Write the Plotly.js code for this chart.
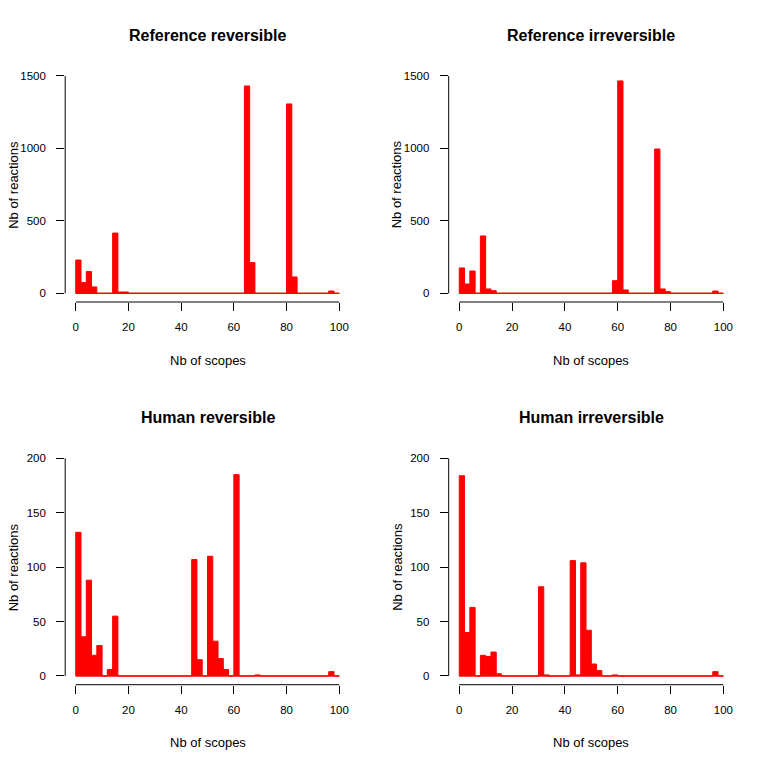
<!DOCTYPE html>
<html>
<head>
<meta charset="utf-8">
<script src="https://cdn.plot.ly/plotly-3.0.1.min.js"></script>
<style>html,body{margin:0;padding:0;background:#fff;}#chart{width:768px;height:767px;}</style>
</head>
<body>
<div id="chart"></div>
<script>
// Histogram bin edges (Nb of scopes), bins of width 2
const scopeBreaks = [0,2,4,6,8,10,12,14,16,18,20,22,24,26,28,30,32,34,36,38,40,42,44,46,48,50,
  52,54,56,58,60,62,64,66,68,70,72,74,76,78,80,82,84,86,88,90,92,94,96,98,100];

// Counts per bin (Nb of reactions)
const refReversible = [230,74,150,44,0,0,0,416,9,9, 0,0,0,0,0,0,0,0,0,0,
  0,0,0,0,0,0,0,0,0,0, 0,0,1431,212,0,0,0,0,0,0, 1307,113,0,0,0,0,0,0,16,0];
const refIrreversible = [175,64,154,0,396,30,18,0,0,0, 0,0,0,0,0,0,0,0,0,0,
  0,0,0,0,0,0,0,0,0,87, 1466,23,0,0,0,0,0,996,30,12, 0,0,0,0,0,0,0,0,16,0];
const humanReversible = [132,36,88,19,28,0,6,55,0,0, 0,0,0,0,0,0,0,0,0,0,
  0,0,107,15,0,110,32,16,6,0, 185,0,0,0,1,0,0,0,0,0, 0,0,0,0,0,0,0,0,4,0];
const humanIrreversible = [184,40,63,0,19,18,22,2,0,0, 0,0,0,0,0,82,1,0,0,0,
  0,106,1,104,42,11,5,0,0,1, 0,0,0,0,0,0,0,0,0,0, 0,0,0,0,0,0,0,0,4,0];

const panelTitles = ["Reference reversible","Reference irreversible","Human reversible","Human irreversible"];
const xTicks = [0,20,40,60,80,100];
const yTicksTop = [0,500,1000,1500];
const yTicksBottom = [0,50,100,150,200];
const xLabel = "Nb of scopes";
const yLabel = "Nb of reactions";

const series = [refReversible, refIrreversible, humanReversible, humanIrreversible];
const yTickSets = [yTicksTop, yTicksTop, yTicksBottom, yTicksBottom];

const FONT = "Liberation Sans, Arial, sans-serif";
const W = 768, H = 767;
const xDomains = [[65.2/W, 349.8/W],[448.7/W, 733.9/W]];
const yDomains = [[1-302.0/H, 1-67.3/H],[1-684.7/H, 1-449.6/H]];

const traces = [];
const layout = {
  width: W, height: H,
  margin: {l:0, r:0, t:0, b:0},
  paper_bgcolor: "#ffffff", plot_bgcolor: "#ffffff",
  showlegend: false, barmode: "overlay",
  shapes: [], annotations: [],
  font: {family: FONT, color: "#000"}
};

series.forEach((counts, i) => {
  const sfx = i === 0 ? "" : String(i+1);
  const xa = "x" + sfx, ya = "y" + sfx;
  const centers = counts.map((c, k) => (scopeBreaks[k] + scopeBreaks[k+1]) / 2);
  const widths = counts.map((c, k) => scopeBreaks[k+1] - scopeBreaks[k]);
  traces.push({
    type: "bar", x: centers, y: counts, width: widths,
    xaxis: xa, yaxis: ya,
    marker: {color: "#ff0000", line: {color: "#ff0000", width: 1}},
    hoverinfo: "x+y"
  });
  // baseline drawn by zero-count bars' borders
  traces.push({
    type: "scatter", mode: "lines",
    x: [scopeBreaks[0], scopeBreaks[scopeBreaks.length-1]], y: [0, 0],
    xaxis: xa, yaxis: ya,
    line: {color: "#ff0000", width: 1}, hoverinfo: "skip"
  });
  const yt = yTickSets[i];
  const yMax = yt[yt.length-1];
  const xMin = xTicks[0], xMax = xTicks[xTicks.length-1];
  const col = i % 2, row = Math.floor(i / 2);
  layout["xaxis" + sfx] = {
    domain: xDomains[col], anchor: ya,
    range: [xMin - 0.04*(xMax-xMin), xMax + 0.04*(xMax-xMin)],
    tickvals: xTicks, ticktext: xTicks.map(String),
    ticks: "outside", ticklen: 8, tickwidth: 1, tickcolor: "#000",
    ticklabelstandoff: 6,
    showline: false, showgrid: false, zeroline: false,
    tickfont: {family: FONT, size: 11.5, color: "#000"},
    fixedrange: true
  };
  layout["yaxis" + sfx] = {
    domain: yDomains[row], anchor: xa,
    range: [-0.04*yMax, yMax*1.04],
    tickvals: yt, ticktext: yt.map(String),
    ticks: "outside", ticklen: 8, tickwidth: 1, tickcolor: "#000",
    ticklabelstandoff: 8,
    showline: false, showgrid: false, zeroline: false,
    tickfont: {family: FONT, size: 11.5, color: "#000"},
    fixedrange: true
  };
  // R-style detached axis lines spanning the tick range
  layout.shapes.push({type: "line", xref: xa, yref: ya + " domain",
    x0: xMin, x1: xMax, y0: 0, y1: 0, line: {color: "#000", width: 1}});
  layout.shapes.push({type: "line", xref: xa + " domain", yref: ya,
    x0: 0, x1: 0, y0: yt[0], y1: yMax, line: {color: "#000", width: 1}});
  // titles
  layout.annotations.push({text: panelTitles[i], xref: xa + " domain", yref: ya + " domain",
    x: 0.5, y: 1, yshift: 32, xanchor: "center", yanchor: "middle", showarrow: false,
    font: {family: FONT, size: 16, weight: "bold", color: "#000"}});
  layout.annotations.push({text: xLabel, xref: xa + " domain", yref: ya + " domain",
    x: 0.5, y: 0, yshift: -58, xanchor: "center", yanchor: "middle", showarrow: false,
    font: {family: FONT, size: 13, color: "#000"}});
  layout.annotations.push({text: yLabel, xref: xa + " domain", yref: ya + " domain",
    x: 0, y: 0.5, xshift: -52, xanchor: "center", yanchor: "middle", textangle: -90, showarrow: false,
    font: {family: FONT, size: 13, color: "#000"}});
});

Plotly.newPlot("chart", traces, layout, {staticPlot: true, displayModeBar: false});
</script>
</body>
</html>
